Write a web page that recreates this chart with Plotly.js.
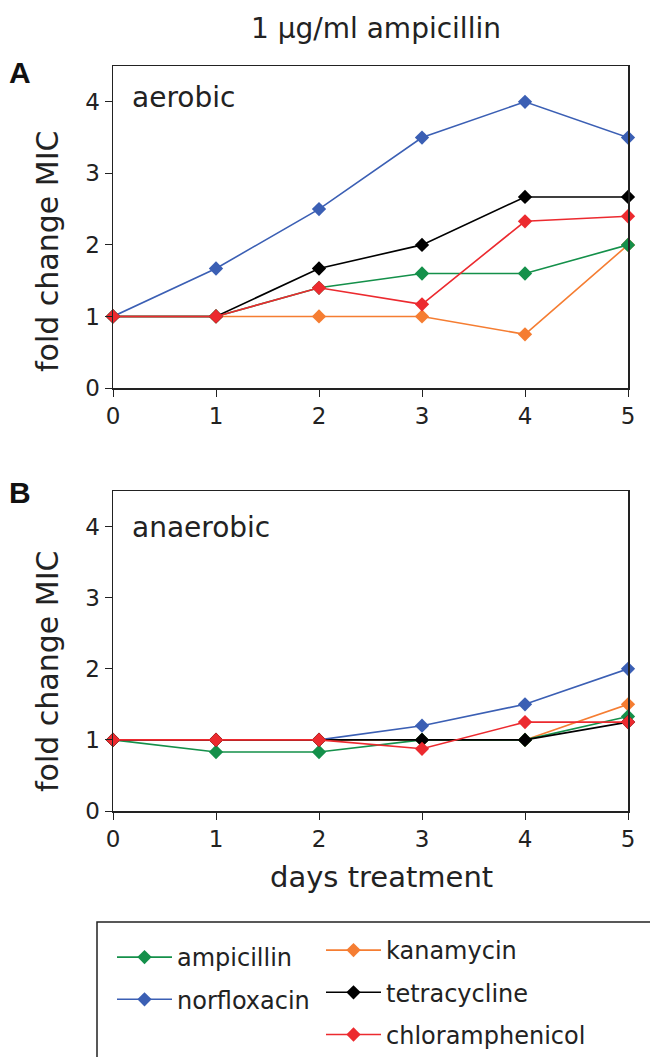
<!DOCTYPE html>
<html>
<head>
<meta charset="utf-8">
<script src="https://cdn.plot.ly/plotly-3.0.1.min.js"></script>
<style>html,body{margin:0;padding:0;background:#fff;}#chart{width:650px;height:1057px;}</style>
</head>
<body>
<div id="chart"></div>
<script>
// ---- data ----
const days = [0, 1, 2, 3, 4, 5];
const xTickLabels = ['0', '1', '2', '3', '4', '5'];
const yTickVals = [0, 1, 2, 3, 4];
const seriesNames = ['ampicillin', 'norfloxacin', 'kanamycin', 'tetracycline', 'chloramphenicol'];

// aerobic (panel A)
const aerobicAmpicillin      = [1, 1, 1.4, 1.6, 1.6, 2.0];
const aerobicNorfloxacin     = [1, 1.67, 2.5, 3.5, 4.0, 3.5];
const aerobicKanamycin       = [1, 1, 1, 1, 0.75, 2.0];
const aerobicTetracycline    = [1, 1, 1.67, 2.0, 2.67, 2.67];
const aerobicChloramphenicol = [1, 1, 1.4, 1.17, 2.33, 2.4];

// anaerobic (panel B)
const anaerobicAmpicillin      = [1, 0.83, 0.83, 1.0, 1.0, 1.33];
const anaerobicNorfloxacin     = [1, 1, 1, 1.2, 1.5, 2.0];
const anaerobicKanamycin       = [1, 1, 1, 1, 1, 1.5];
const anaerobicTetracycline    = [1, 1, 1, 1, 1, 1.25];
const anaerobicChloramphenicol = [1, 1, 1, 0.875, 1.25, 1.25];

// ---- styling ----
const colors = {
  ampicillin: '#14904a',
  norfloxacin: '#3b5fb4',
  kanamycin: '#f57d32',
  tetracycline: '#000000',
  chloramphenicol: '#ec2a2f'
};
const legendOf = {
  ampicillin: 'legend', norfloxacin: 'legend',
  kanamycin: 'legend2', tetracycline: 'legend2', chloramphenicol: 'legend2'
};
const aerobic = {
  ampicillin: aerobicAmpicillin, norfloxacin: aerobicNorfloxacin, kanamycin: aerobicKanamycin,
  tetracycline: aerobicTetracycline, chloramphenicol: aerobicChloramphenicol
};
const anaerobic = {
  ampicillin: anaerobicAmpicillin, norfloxacin: anaerobicNorfloxacin, kanamycin: anaerobicKanamycin,
  tetracycline: anaerobicTetracycline, chloramphenicol: anaerobicChloramphenicol
};
// draw order (last on top)
const drawOrder = ['norfloxacin', 'kanamycin', 'ampicillin', 'tetracycline', 'chloramphenicol'];

const W = 650, H = 1057, L = 113, R = 22;
const px = x => (x - L) / (W - L - R);
const py = y => 1 - y / H;

const font = 'DejaVu Sans, Verdana, sans-serif';
const traces = [];
drawOrder.forEach(name => {
  traces.push({
    x: days, y: aerobic[name], xaxis: 'x', yaxis: 'y', type: 'scatter', mode: 'lines+markers',
    name: name, legend: legendOf[name], legendgroup: name,
    line: {color: colors[name], width: 1.6},
    marker: {symbol: 'diamond', size: 11, color: colors[name]},
    cliponaxis: false, showlegend: true
  });
  traces.push({
    x: days, y: anaerobic[name], xaxis: 'x2', yaxis: 'y2', type: 'scatter', mode: 'lines+markers',
    name: name, legend: legendOf[name], legendgroup: name,
    line: {color: colors[name], width: 1.6},
    marker: {symbol: 'diamond', size: 11, color: colors[name]},
    cliponaxis: false, showlegend: false
  });
});
// legend order follows seriesNames
traces.forEach(t => { t.legendrank = seriesNames.indexOf(t.name) + 1; });

const axisX = {
  range: [0, 5], tickvals: days, ticktext: xTickLabels, ticks: 'outside', ticklen: 7,
  tickcolor: '#222', showline: true, mirror: true, linecolor: '#222', linewidth: 1.5,
  showgrid: false, zeroline: false, tickfont: {family: font, size: 23, color: '#222'},
  automargin: false, fixedrange: true
};
const axisY = {
  range: [0, 4.5], tickvals: yTickVals, ticks: 'outside', ticklen: 7,
  tickcolor: '#222', showline: true, mirror: true, linecolor: '#222', linewidth: 1.5,
  showgrid: false, zeroline: false, tickfont: {family: font, size: 23, color: '#222'},
  automargin: false, fixedrange: true
};

const legendBase = {
  bgcolor: 'rgba(0,0,0,0)', borderwidth: 0, font: {family: font, size: 24, color: '#222'},
  xanchor: 'left', yanchor: 'top', traceorder: 'grouped', tracegroupgap: 8, itemwidth: 55
};

const ann = (text, x, y, opts) => Object.assign({
  text: text, xref: 'paper', yref: 'paper', x: px(x), y: py(y), showarrow: false,
  xanchor: 'center', yanchor: 'middle', font: {family: font, size: 26, color: '#222'}
}, opts || {});

const layout = {
  width: W, height: H,
  margin: {l: L, r: R, t: 0, b: 0, pad: 0},
  paper_bgcolor: '#fff', plot_bgcolor: '#fff',
  showlegend: true,
  xaxis: Object.assign({}, axisX, {anchor: 'y', domain: [0, 1]}),
  yaxis: Object.assign({}, axisY, {anchor: 'x', domain: [py(388), py(66)]}),
  xaxis2: Object.assign({}, axisX, {anchor: 'y2', domain: [0, 1]}),
  yaxis2: Object.assign({}, axisY, {anchor: 'x2', domain: [py(811), py(491)]}),
  legend: Object.assign({}, legendBase, {x: px(112), y: py(935)}),
  legend2: Object.assign({}, legendBase, {x: px(321), y: py(928)}),
  annotations: [
    ann('1 μg/ml ampicillin', 376, 28, {font: {family: font, size: 28, color: '#222'}}),
    ann('<b>A</b>', 20, 72, {font: {family: 'Liberation Sans, Arial, sans-serif', size: 30, color: '#111'}}),
    ann('<b>B</b>', 20, 492, {font: {family: 'Liberation Sans, Arial, sans-serif', size: 30, color: '#111'}}),
    ann('aerobic', 130, 97, {xanchor: 'left', font: {family: font, size: 28, color: '#222'}}),
    ann('anaerobic', 130, 527, {xanchor: 'left', font: {family: font, size: 28, color: '#222'}}),
    ann('fold change MIC', 47, 252, {textangle: -90, font: {family: font, size: 30, color: '#222'}}),
    ann('fold change MIC', 47, 672, {textangle: -90, font: {family: font, size: 30, color: '#222'}}),
    ann('days treatment', 381, 877, {font: {family: font, size: 29, color: '#222'}})
  ],
  shapes: [
    {type: 'rect', xref: 'paper', yref: 'paper', x0: px(97), x1: px(660), y0: py(1070), y1: py(922),
     line: {color: '#222', width: 1.5}, fillcolor: 'rgba(0,0,0,0)'}
  ]
};

Plotly.newPlot('chart', traces, layout, {staticPlot: true, displayModeBar: false});
</script>
</body>
</html>
